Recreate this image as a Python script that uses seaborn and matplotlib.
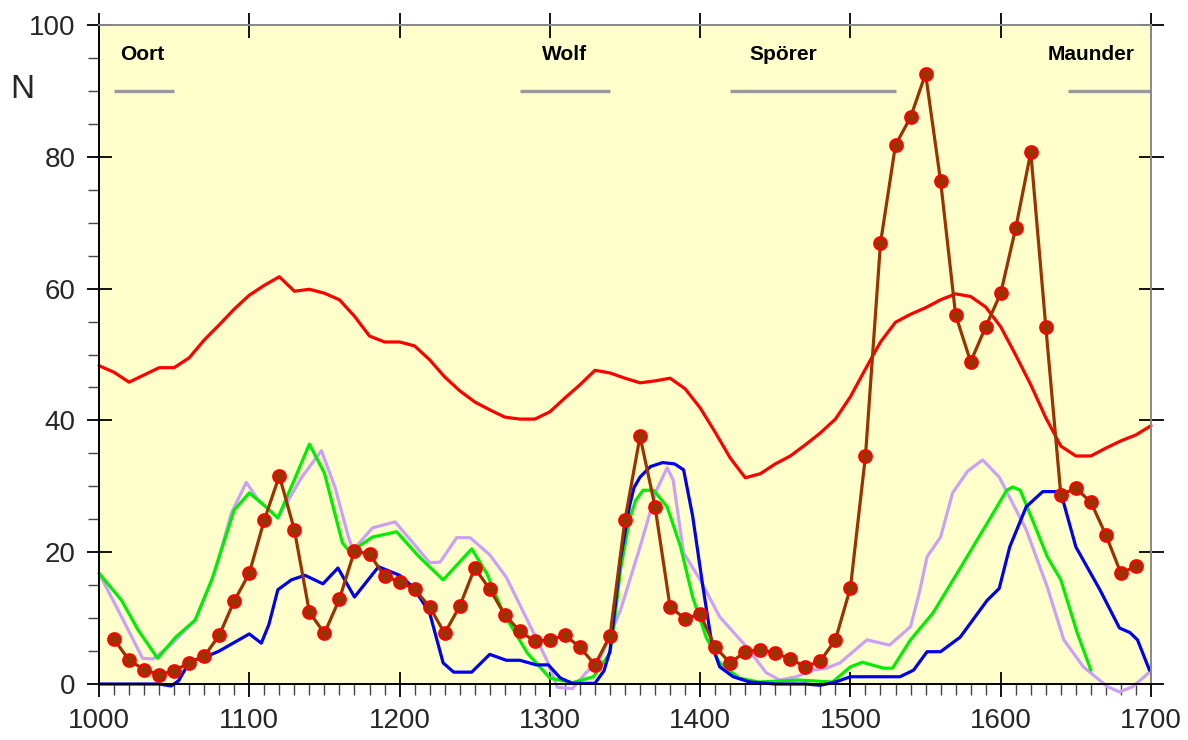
import numpy as np
import pandas as pd
import matplotlib
matplotlib.use("Agg")
import matplotlib.pyplot as plt
from matplotlib.ticker import MultipleLocator
import seaborn as sns

# ---------------- data ----------------
brown_years = list(range(1010, 1700, 10))
brown_vals = [6.8, 3.6, 2.2, 1.4, 2.0, 3.2, 4.2, 7.4, 12.6, 16.8,
              24.9, 31.6, 23.4, 10.9, 7.7, 12.9, 20.2, 19.7, 16.4, 15.5,
              14.4, 11.7, 7.7, 11.8, 17.6, 14.4, 10.5, 8.0, 6.5, 6.7,
              7.4, 5.6, 2.9, 7.3, 24.9, 37.6, 26.9, 11.7, 9.9, 10.6,
              5.6, 3.2, 4.9, 5.2, 4.7, 3.8, 2.6, 3.5, 6.7, 14.6,
              34.6, 66.9, 81.8, 86.0, 92.6, 76.3, 56.0, 48.9, 54.2, 59.3,
              69.2, 80.7, 54.2, 28.7, 29.7, 27.6, 22.6, 16.8, 17.9]

red_years = list(range(1000, 1710, 10))
red_vals = [48.3, 47.3, 45.8, 46.9, 48.0, 48.0, 49.5, 52.2, 54.5, 56.9,
            59.0, 60.5, 61.8, 59.6, 59.9, 59.3, 58.3, 55.8, 52.8, 51.9,
            51.9, 51.3, 49.2, 46.6, 44.5, 42.8, 41.6, 40.5, 40.2, 40.2,
            41.3, 43.4, 45.4, 47.6, 47.2, 46.4, 45.7, 46.0, 46.4, 44.8,
            41.9, 38.2, 34.3, 31.3, 31.9, 33.4, 34.6, 36.3, 38.1, 40.2,
            43.6, 47.8, 51.9, 54.9, 56.1, 57.1, 58.3, 59.2, 58.8, 57.2,
            54.2, 49.9, 45.4, 40.4, 36.1, 34.6, 34.6, 35.8, 36.9, 37.8,
            39.2]

green_years = [1000, 1015, 1026, 1039, 1051, 1064, 1075, 1090, 1100, 1112,
               1119, 1130, 1140, 1150, 1162, 1167, 1182, 1198, 1213, 1229,
               1248, 1258, 1269, 1285, 1300, 1315, 1329, 1340, 1343, 1347,
               1353, 1357, 1362, 1369, 1378, 1387, 1395, 1404, 1413, 1426,
               1439, 1466, 1488, 1500, 1508, 1522, 1528, 1540, 1555, 1571,
               1591, 1604, 1608, 1613, 1622, 1631, 1640, 1651, 1660]
green_vals = [16.8, 12.7, 8.2, 3.9, 7.1, 9.7, 15.8, 26.4, 29.0, 26.7,
              25.2, 31.0, 36.4, 32.0, 21.4, 20.0, 22.3, 23.1, 19.3, 15.8,
              20.5, 16.8, 10.8, 4.7, 0.9, 0.2, 1.1, 4.7, 9.5, 17.3,
              24.9, 27.8, 29.4, 29.4, 26.9, 20.8, 13.2, 7.1, 3.2, 0.9,
              0.3, 0.6, 0.3, 2.6, 3.3, 2.4, 2.4, 6.7, 10.8, 16.8,
              24.4, 29.4, 29.9, 29.4, 24.4, 19.3, 15.8, 7.7, 2.1]

blue_years = [1000, 1040, 1048, 1053, 1058, 1062, 1070, 1080, 1090, 1100,
              1108, 1113, 1119, 1128, 1137, 1149, 1159, 1170, 1186, 1200,
              1209, 1220, 1229, 1236, 1248, 1260, 1271, 1280, 1291, 1299,
              1307, 1315, 1330, 1336, 1340, 1343, 1347, 1353, 1356, 1360,
              1367, 1375, 1383, 1389, 1395, 1402, 1408, 1413, 1422, 1433,
              1450, 1470, 1480, 1490, 1500, 1533, 1542, 1551, 1560, 1573,
              1591, 1599, 1606, 1617, 1628, 1637, 1642, 1650, 1666, 1679,
              1686, 1691, 1699]
blue_vals = [0.0, 0.0, -0.3, 0.5, 2.5, 3.6, 4.0, 5.0, 6.3, 7.6,
             6.2, 9.0, 14.3, 15.8, 16.5, 15.2, 17.6, 13.2, 17.8, 16.5,
             14.7, 10.8, 3.2, 1.8, 1.8, 4.5, 3.6, 3.6, 2.9, 2.9,
             0.9, 0.1, 0.1, 2.0, 5.0, 11.0, 19.0, 27.0, 29.8, 31.4,
             33.0, 33.6, 33.4, 32.5, 25.5, 14.5, 5.8, 2.6, 1.1, 0.3,
             0.0, 0.0, -0.2, 0.3, 1.1, 1.1, 2.1, 4.9, 4.9, 7.1,
             12.7, 14.5, 20.8, 26.9, 29.2, 29.2, 27.4, 20.8, 14.3, 8.5,
             7.8, 6.7, 2.1]

lav_years = [1000, 1015, 1029, 1036, 1049, 1064, 1077, 1088, 1098, 1106,
             1119, 1135, 1148, 1157, 1166, 1169, 1182, 1197, 1209, 1220,
             1227, 1238, 1247, 1260, 1271, 1285, 1298, 1305, 1315, 1324,
             1333, 1347, 1360, 1371, 1378, 1382, 1389, 1400, 1413, 1431,
             1444, 1453, 1464, 1475, 1484, 1493, 1511, 1526, 1540, 1546,
             1551, 1560, 1568, 1578, 1588, 1599, 1617, 1631, 1642, 1655,
             1671, 1679, 1688, 1699]
lav_vals = [16.8, 10.2, 3.9, 3.8, 6.2, 9.7, 16.8, 25.9, 30.6, 27.9,
            25.2, 31.4, 35.4, 29.9, 22.3, 20.3, 23.7, 24.6, 21.4, 18.4,
            18.5, 22.2, 22.2, 19.6, 16.2, 9.7, 3.6, -0.5, -0.7, 1.7,
            3.6, 11.2, 20.8, 29.4, 32.8, 31.0, 19.9, 15.8, 10.2, 5.6,
            1.7, 0.6, 1.1, 2.1, 2.4, 3.2, 6.7, 5.9, 8.7, 14.0,
            19.3, 22.3, 29.0, 32.3, 34.0, 31.4, 23.4, 14.7, 6.7, 2.6,
            -0.4, -1.2, -0.4, 1.8]

minima_names = ["Oort", "Wolf", "Spörer", "Maunder"]
minima_start = [1010, 1280, 1420, 1645]
minima_end = [1050, 1340, 1530, 1700]
minima_text_x = [1014, 1295, 1433, 1631]

# ---------------- style ----------------
sns.set_theme(style="ticks")
plt.rcParams["font.family"] = ["Liberation Sans", "DejaVu Sans"]

fig = plt.figure(figsize=(11.88, 7.40), dpi=100)
ax = fig.add_axes([99 / 1188, 1 - 684 / 740, (1151 - 99) / 1188, (684 - 25) / 740])
ax.set_facecolor("#FFFFCC")

lw = 2.3
series = [
    (lav_years, lav_vals, "#CCA0F8"),
    (green_years, green_vals, "#00EE00"),
    (blue_years, blue_vals, "#0000EE"),
    (red_years, red_vals, "#FF0000"),
]
for xs, ys, col in series:
    df = pd.DataFrame({"year": xs, "N": ys})
    sns.lineplot(data=df, x="year", y="N", ax=ax, color=col, linewidth=lw,
                 estimator=None, sort=False)
    ax.lines[-1].set_clip_on(False)

dfb = pd.DataFrame({"year": brown_years, "N": brown_vals})
sns.lineplot(data=dfb, x="year", y="N", ax=ax, color="#993300", linewidth=lw,
             marker="o", markersize=9, markerfacecolor="#993300",
             markeredgecolor="#FF0000", markeredgewidth=1.6,
             estimator=None, sort=False)

# grand minima
for name, s, e, tx in zip(minima_names, minima_start, minima_end, minima_text_x):
    ax.plot([s, e], [90, 90], color="#999999", linewidth=2.4, solid_capstyle="butt")
    ax.text(tx, 95.5, name, fontsize=15, fontweight="bold", ha="left",
            va="center", color="black")

ax.set_xlim(1000, 1700)
ax.set_ylim(0, 100)
ax.set_xlabel("")
ax.set_ylabel("")
ax.xaxis.set_major_locator(MultipleLocator(100))
ax.xaxis.set_minor_locator(MultipleLocator(10))
ax.yaxis.set_major_locator(MultipleLocator(20))
ax.yaxis.set_minor_locator(MultipleLocator(5))

ax.tick_params(which="major", direction="inout", length=18, width=1.3,
               color="black", top=True, right=True, labelsize=20,
               labeltop=False, labelright=False, pad=8)
ax.tick_params(which="minor", direction="out", length=8, width=1.0,
               color="#444444", top=False, right=False, left=True, bottom=True)

for side in ["left", "bottom"]:
    ax.spines[side].set_color("black")
    ax.spines[side].set_linewidth(1.4)
for side in ["top", "right"]:
    ax.spines[side].set_color("#888888")
    ax.spines[side].set_linewidth(1.4)
    ax.spines[side].set_visible(True)

fig.text(22 / 1188, 1 - 90 / 740, "N", fontsize=24, ha="center", va="center")

fig.savefig("out.png", dpi=100)
